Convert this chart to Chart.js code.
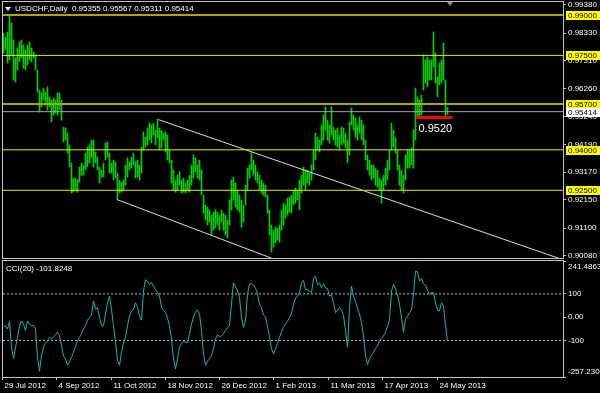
<!DOCTYPE html>
<html>
<head>
<meta charset="utf-8">
<script src="https://cdn.jsdelivr.net/npm/chart.js@4.4.0/dist/chart.umd.min.js"></script>
<style>
  html, body { margin: 0; padding: 0; background: #000; }
  #wrap { position: relative; width: 600px; height: 393px; background: #000; overflow: hidden;
          font-family: 'Liberation Sans', Arial, sans-serif; }
  canvas { position: absolute; left: 0; }
  #main { top: 0; }
  #cci { top: 259px; }
  .lbl { position: absolute; color: #fff; font-size: 8px; line-height: 10px; white-space: nowrap; }
  #title { left: 15px; top: 4px; }
  #cciTitle { left: 6px; top: 264px; }
  .tri { position: absolute; width: 0; height: 0; border-left: 3px solid transparent; border-right: 3px solid transparent; }
  #menuTri { left: 5px; top: 7px; border-top: 4px solid #fff; }
  #shiftTri { left: 447px; top: 2px; border-top: 4px solid #8a8a8a; }
</style>
</head>
<body>
<div id="wrap">
  <canvas id="main" width="600" height="260"></canvas>
  <canvas id="cci" width="600" height="134"></canvas>
  <div class="tri" id="menuTri"></div>
  <div class="tri" id="shiftTri"></div>
  <div class="lbl" id="title">USDCHF,Daily&nbsp; 0.95355 0.95567 0.95311 0.95414</div>
  <div class="lbl" id="cciTitle">CCI(20) -101.8248</div>
</div>
<script>
const FONT = "'Liberation Sans', Arial, sans-serif";

// daily bars, one per trading day (index 0 = 29 Jul 2012)
const highs = [
  0.9833,0.9818,0.9837,0.9900,0.9870,0.9807,0.9741,0.9778,0.9800,0.9807,
  0.9789,0.9770,0.9789,0.9800,0.9778,0.9763,0.9752,0.9696,0.9622,0.9611,
  0.9629,0.9614,0.9633,0.9596,0.9585,0.9592,0.9585,0.9611,0.9611,0.9585,
  0.9484,0.9481,0.9462,0.9418,0.9351,0.9295,0.9295,0.9288,0.9336,0.9351,
  0.9344,0.9388,0.9410,0.9418,0.9436,0.9436,0.9392,0.9373,0.9336,0.9325,
  0.9351,0.9425,0.9429,0.9388,0.9351,0.9362,0.9355,0.9314,0.9288,0.9280,
  0.9288,0.9344,0.9370,0.9355,0.9373,0.9388,0.9355,0.9362,0.9344,0.9410,
  0.9466,0.9447,0.9481,0.9499,0.9492,0.9499,0.9473,0.9514,0.9481,0.9473,
  0.9462,0.9466,0.9455,0.9399,0.9362,0.9325,0.9288,0.9306,0.9318,0.9288,
  0.9295,0.9277,0.9288,0.9306,0.9344,0.9381,0.9370,0.9344,0.9362,0.9325,
  0.9232,0.9195,0.9188,0.9177,0.9158,0.9169,0.9177,0.9169,0.9158,0.9177,
  0.9165,0.9158,0.9139,0.9214,0.9288,0.9299,0.9277,0.9251,0.9232,0.9214,
  0.9195,0.9269,0.9332,0.9344,0.9388,0.9362,0.9344,0.9318,0.9306,0.9288,
  0.9277,0.9269,0.9232,0.9177,0.9121,0.9102,0.9113,0.9110,0.9121,0.9177,
  0.9202,0.9195,0.9221,0.9225,0.9232,0.9251,0.9258,0.9251,0.9288,0.9306,
  0.9336,0.9325,0.9325,0.9314,0.9344,0.9399,0.9462,0.9447,0.9436,0.9492,
  0.9529,0.9559,0.9510,0.9492,0.9559,0.9484,0.9473,0.9481,0.9455,0.9484,
  0.9481,0.9462,0.9436,0.9503,0.9555,0.9529,0.9518,0.9492,0.9522,0.9510,
  0.9492,0.9436,0.9381,0.9362,0.9344,0.9344,0.9332,0.9325,0.9295,0.9288,
  0.9306,0.9332,0.9362,0.9399,0.9499,0.9473,0.9444,0.9399,0.9344,0.9325,
  0.9306,0.9381,0.9399,0.9399,0.9407,0.9473,0.9629,0.9596,0.9585,0.9603,
  0.9752,0.9733,0.9744,0.9733,0.9733,0.9837,0.9759,0.9670,0.9722,0.9733,
  0.9796,0.9659,0.95567
];
const lows = [
  0.9759,0.9770,0.9722,0.9733,0.9752,0.9659,0.9651,0.9696,0.9726,0.9741,
  0.9703,0.9696,0.9714,0.9733,0.9726,0.9741,0.9696,0.9614,0.9540,0.9559,
  0.9585,0.9566,0.9548,0.9559,0.9503,0.9529,0.9536,0.9529,0.9548,0.9510,
  0.9429,0.9436,0.9388,0.9336,0.9240,0.9243,0.9251,0.9243,0.9280,0.9306,
  0.9306,0.9325,0.9336,0.9351,0.9370,0.9336,0.9351,0.9325,0.9277,0.9299,
  0.9299,0.9362,0.9373,0.9314,0.9314,0.9288,0.9295,0.9214,0.9240,0.9243,
  0.9251,0.9269,0.9299,0.9325,0.9332,0.9344,0.9295,0.9299,0.9288,0.9314,
  0.9399,0.9410,0.9418,0.9436,0.9425,0.9455,0.9418,0.9444,0.9399,0.9407,
  0.9436,0.9392,0.9362,0.9351,0.9277,0.9251,0.9243,0.9251,0.9269,0.9240,
  0.9243,0.9240,0.9251,0.9243,0.9269,0.9295,0.9318,0.9295,0.9288,0.9232,
  0.9165,0.9139,0.9121,0.9132,0.9084,0.9102,0.9110,0.9121,0.9102,0.9132,
  0.9102,0.9084,0.9073,0.9121,0.9177,0.9214,0.9188,0.9177,0.9169,0.9113,
  0.9132,0.9195,0.9251,0.9295,0.9325,0.9306,0.9288,0.9277,0.9251,0.9240,
  0.9232,0.9225,0.9165,0.9084,0.9021,0.9039,0.9054,0.9065,0.9058,0.9102,
  0.9121,0.9147,0.9158,0.9169,0.9165,0.9195,0.9202,0.9214,0.9177,0.9240,
  0.9269,0.9251,0.9277,0.9269,0.9288,0.9325,0.9362,0.9399,0.9392,0.9418,
  0.9436,0.9473,0.9436,0.9425,0.9455,0.9436,0.9418,0.9410,0.9399,0.9418,
  0.9425,0.9407,0.9351,0.9381,0.9492,0.9473,0.9447,0.9436,0.9462,0.9436,
  0.9418,0.9362,0.9325,0.9306,0.9288,0.9295,0.9269,0.9262,0.9251,0.9202,
  0.9251,0.9269,0.9288,0.9325,0.9399,0.9410,0.9388,0.9325,0.9269,0.9251,
  0.9240,0.9288,0.9332,0.9332,0.9344,0.9332,0.9436,0.9522,0.9522,0.9529,
  0.9622,0.9648,0.9633,0.9659,0.9659,0.9707,0.9648,0.9596,0.9640,0.9648,
  0.9659,0.9522,0.95311
];
const cci = [
  -44,-37,-51,-18,-129,-179,-129,-87,-37,-16,
  -30,-58,-16,-30,-37,-34,-51,-172,-232,-165,
  -129,-112,-101,-87,-94,-84,-75,-65,-80,-122,
  -168,-179,-207,-193,-172,-151,-126,-104,-87,-70,
  -51,-37,-13,-1,10,70,34,41,-1,-37,
  -37,13,62,91,34,-37,-108,-186,-207,-151,
  -108,-87,-37,6,24,33,62,44,6,-13,
  112,162,155,141,148,134,119,105,91,44,
  27,21,-4,-37,-94,-179,-222,-179,-129,-112,
  -104,-108,-108,-72,-30,1,24,31,13,-58,
  -158,-207,-189,-179,-165,-136,-94,-75,-84,-80,
  -70,-58,-44,-37,55,148,131,115,84,-1,
  -44,-16,98,144,144,138,124,101,55,41,
  10,1,-37,-87,-136,-158,-136,-112,-87,-61,
  -44,-30,-18,-1,16,55,81,91,105,148,
  158,119,118,112,105,166,176,138,148,126,
  144,126,124,91,95,62,20,27,41,31,
  6,-58,-129,41,134,91,67,38,13,-23,
  -80,-165,-203,-179,-163,-151,-135,-124,-101,-92,
  -81,-64,-41,-9,112,141,122,95,55,-1,
  -65,-9,4,20,30,98,198,195,155,166,
  144,138,115,98,107,105,62,30,27,62,
  48,-37,-101.8248
];

// drawn objects on the price chart
const levels = [0.99, 0.975, 0.957, 0.94, 0.925];
const levelColors = ['#a8a800', '#e8e800', '#a8a800', '#e8e800', '#e8e800'];
const levelWidths = [2, 1, 2, 1, 1];
const lastPrice = 0.95414;
const supportIdx = [206.5, 224.5];
const supportVal = 0.952;
const channelTopIdx = [77.5, 279.5];
const channelTopVal = [0.9512, 0.8993];
const channelLowIdx = [57, 137];
const channelLowVal = [0.9215, 0.8990];

// axes
const X_MIN = -0.25, X_MAX = 279.75;
const priceMin = 0.8999, priceMax = 0.9948;
const priceTicks = [0.99380, 0.98330, 0.97310, 0.96260, 0.95240, 0.94190, 0.93170, 0.92150, 0.91100, 0.90080];
const cciMin = -257.2308, cciMax = 241.4863;
const cciTicks = [241.4863, 100, 0, -100, -257.2308];
const cciTickText = ['241.4863', '100', '0.00', '-100', '-257.2308'];
const cciLevels = [100, -100];
const dateIdx = [-0.5, 26.5, 54, 81, 108, 135, 162.5, 189.5, 217];
const dateLabels = ['29 Jul 2012', '4 Sep 2012', '11 Oct 2012', '18 Nov 2012', '26 Dec 2012',
                    '1 Feb 2013', '11 Mar 2013', '17 Apr 2013', '24 May 2013'];

Chart.defaults.font.family = FONT;
Chart.defaults.font.size = 8;
Chart.defaults.color = '#fff';

function seg(xs, ys) { return [{x: xs[0], y: ys[0]}, {x: xs[1], y: ys[1]}]; }
function flat(v, x0, x1) { return [{x: x0, y: v}, {x: x1, y: v}]; }
function lineSet(data, color, width, extra) {
    return Object.assign({type: 'line', data: data, borderColor: color, borderWidth: width,
        pointRadius: 0, tension: 0, fill: false}, extra || {});
}

const framePlugin = {
    id: 'frame',
    afterDraw(chart) {
        const a = chart.chartArea, ctx = chart.ctx;
        ctx.save();
        ctx.strokeStyle = '#c4c4c4';
        ctx.lineWidth = 1;
        ctx.strokeRect(a.left - 0.5, a.top - 0.5, a.right - a.left + 1, a.bottom - a.top + 1);
        ctx.restore();
    }
};

const priceBoxes = {
    id: 'priceBoxes',
    afterDraw(chart) {
        const ctx = chart.ctx, y = chart.scales.y, x = chart.scales.x;
        ctx.save();
        ctx.font = '8px ' + FONT;
        ctx.textBaseline = 'middle';
        const box = (v, bg) => {
            const py = Math.round(y.getPixelForValue(v));
            ctx.fillStyle = bg;
            ctx.fillRect(y.left + 3, py - 4, chart.width - y.left - 3, 9);
            ctx.fillStyle = '#000';
            ctx.fillText(v.toFixed(5), y.left + 5, py + 0.5);
        };
        levels.forEach(v => box(v, '#ffff00'));
        box(lastPrice, '#ffffff');
        // support label under the red line
        ctx.font = '11px ' + FONT;
        ctx.fillStyle = '#fff';
        ctx.fillText(supportVal.toFixed(4), x.getPixelForValue(supportIdx[0]) + 2, y.getPixelForValue(supportVal) + 12);
        ctx.restore();
    }
};

const gridGray = '#c4c4c4';

new Chart(document.getElementById('main'), {
    type: 'bar',
    data: {
        datasets: [
            ...levels.map((v, i) => lineSet(flat(v, X_MIN, X_MAX), levelColors[i], levelWidths[i])),
            lineSet(flat(lastPrice, X_MIN, X_MAX), '#a4a4b4', 1),
            lineSet(seg(channelTopIdx, channelTopVal), '#dcdcdc', 1),
            lineSet(seg(channelLowIdx, channelLowVal), '#dcdcdc', 1),
            lineSet(flat(supportVal, supportIdx[0], supportIdx[1]), '#ff0000', 3),
            {
                type: 'bar',
                data: highs.map((h, i) => ({x: i, y: [lows[i], h]})),
                backgroundColor: '#00d400',
                borderWidth: 0,
                barThickness: 1,
                order: 10
            }
        ]
    },
    options: {
        responsive: false,
        animation: false,
        events: [],
        layout: {padding: {left: 3, top: 2, right: 0, bottom: 2}, autoPadding: false},
        plugins: {legend: {display: false}, tooltip: {enabled: false}},
        scales: {
            x: {type: 'linear', min: X_MIN, max: X_MAX, offset: false, display: false},
            y: {
                type: 'linear', position: 'right', min: priceMin, max: priceMax,
                afterBuildTicks: s => { s.ticks = priceTicks.map(v => ({value: v})); },
                afterFit: s => { s.width = 37; s.paddingTop = 0; s.paddingBottom = 0; },
                grid: {drawOnChartArea: false, color: gridGray, tickLength: 3},
                border: {display: false},
                ticks: {autoSkip: false, padding: 2, color: '#fff', callback: v => v.toFixed(5)}
            }
        }
    },
    plugins: [framePlugin, priceBoxes]
});

new Chart(document.getElementById('cci'), {
    type: 'line',
    data: {
        datasets: [
            ...cciLevels.map(v => lineSet(flat(v, X_MIN, X_MAX), '#c0c0c0', 1, {borderDash: [2, 2]})),
            lineSet(cci.map((v, i) => ({x: i, y: v})), '#20b2aa', 1, {order: -1})
        ]
    },
    options: {
        responsive: false,
        animation: false,
        events: [],
        layout: {padding: {left: 3, top: 2, right: 0, bottom: 0}, autoPadding: false},
        plugins: {legend: {display: false}, tooltip: {enabled: false}},
        scales: {
            x: {
                type: 'linear', min: X_MIN, max: X_MAX, offset: false, position: 'bottom',
                afterBuildTicks: s => { s.ticks = dateIdx.map(v => ({value: v})); },
                afterFit: s => { s.height = 16; s.paddingLeft = 0; s.paddingRight = 0; },
                grid: {drawOnChartArea: false, color: gridGray, tickLength: 3},
                border: {display: false},
                ticks: {autoSkip: false, maxRotation: 0, align: 'start', padding: 1, labelOffset: 2,
                        color: '#fff', callback: (v, i) => dateLabels[i]}
            },
            y: {
                type: 'linear', position: 'right', min: cciMin, max: cciMax,
                afterBuildTicks: s => { s.ticks = cciTicks.map(v => ({value: v})); },
                afterFit: s => { s.width = 37; s.paddingTop = 0; s.paddingBottom = 0; },
                grid: {drawOnChartArea: false, color: gridGray, tickLength: 3},
                border: {display: false},
                ticks: {
                    autoSkip: false, padding: 2, color: '#fff', font: {size: 8, lineHeight: 1.4},
                    callback: (v, i) => {
                        const t = cciTickText[cciTicks.indexOf(v)];
                        if (v === cciMax) return ['', t];
                        if (v === cciMin) return [t, ''];
                        return t;
                    }
                }
            }
        }
    },
    plugins: [framePlugin]
});
</script>
</body>
</html>
